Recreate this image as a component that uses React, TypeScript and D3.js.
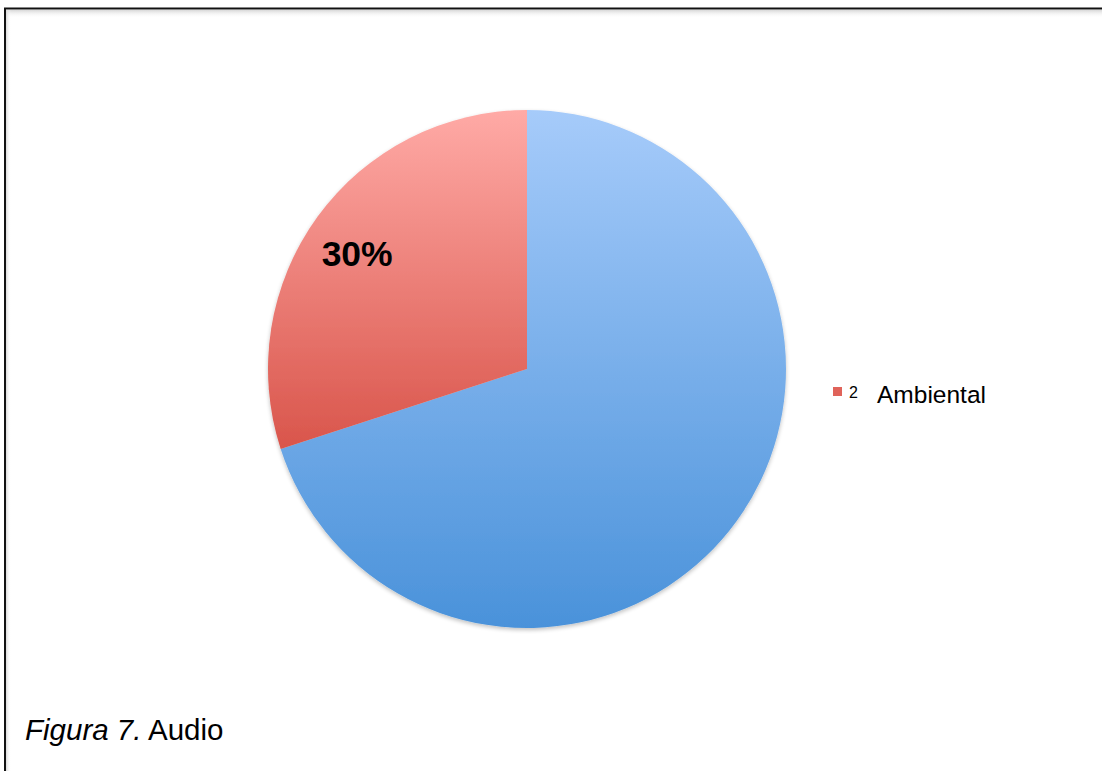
import React from "react";
import * as d3 from "d3";

const categories = ["1", "2"];
const legendNames = ["", "Ambiental"];
const values = [70, 30];
const shownLabels = [false, true];
const caption = { italic: "Figura 7.", plain: " Audio" };

const W = 1102;
const H = 771;
const cx = 527;
const cy = 369;
const R = 259;

export default function App() {
  const pie = d3.pie<number>().sort(null).value((d) => d);
  const arcs = pie(values);
  const arcGen = d3.arc<d3.PieArcDatum<number>>().innerRadius(0).outerRadius(R);
  const labelArc = d3.arc<d3.PieArcDatum<number>>().innerRadius(205).outerRadius(205);
  const total = d3.sum(values);
  const fills = ["url(#gBlue)", "url(#gRed)"];
  const legendFill = ["#6fa3e6", "#e0635a"];

  return (
    <svg
      width={W}
      height={H}
      style={{ position: "absolute", left: 0, top: 0, display: "block", background: "#fff" }}
      fontFamily="'Liberation Sans', Arial, sans-serif"
    >
      <defs>
        <linearGradient id="gBlue" gradientUnits="userSpaceOnUse" x1={0} y1={-R} x2={0} y2={R}>
          <stop offset="0" stopColor="#a6cbfa" />
          <stop offset="1" stopColor="#4a92da" />
        </linearGradient>
        <linearGradient id="gRed" gradientUnits="userSpaceOnUse" x1={0} y1={-R} x2={0} y2={R * 0.31}>
          <stop offset="0" stopColor="#ffaaa6" />
          <stop offset="1" stopColor="#d9554b" />
        </linearGradient>
        <linearGradient id="shTop" x1="0" y1="0" x2="0" y2="1">
          <stop offset="0" stopColor="#d8d8d8" />
          <stop offset="1" stopColor="#ffffff" stopOpacity="0" />
        </linearGradient>
        <linearGradient id="shLeft" x1="0" y1="0" x2="1" y2="0">
          <stop offset="0" stopColor="#d8d8d8" />
          <stop offset="1" stopColor="#ffffff" stopOpacity="0" />
        </linearGradient>
        <filter id="pieShadow" x="-10%" y="-10%" width="120%" height="120%">
          <feGaussianBlur in="SourceAlpha" stdDeviation="2" />
          <feOffset dx="0" dy="2" result="b" />
          <feComponentTransfer>
            <feFuncA type="linear" slope="0.25" />
          </feComponentTransfer>
          <feMerge>
            <feMergeNode />
            <feMergeNode in="SourceGraphic" />
          </feMerge>
        </filter>
      </defs>

      {/* frame */}
      <rect x={6} y={10} width={W - 6} height={8} fill="url(#shTop)" />
      <rect x={6} y={10} width={5} height={H - 10} fill="url(#shLeft)" />
      <line x1={4} y1={8.5} x2={W} y2={8.5} stroke="#111" strokeWidth={2} />
      <line x1={5} y1={8} x2={5} y2={H} stroke="#111" strokeWidth={2} />

      <g transform={`translate(${cx},${cy})`} filter="url(#pieShadow)">
        {arcs.map((a, i) => (
          <path key={categories[i]} d={arcGen(a) || ""} fill={fills[i]} />
        ))}
      </g>
      <g transform={`translate(${cx},${cy})`}>
        {arcs.map((a, i) => {
          if (!shownLabels[i]) return null;
          const [lx, ly] = labelArc.centroid(a);
          return (
            <text
              key={"l" + categories[i]}
              x={lx - 4}
              y={ly + 5}
              textAnchor="middle"
              dominantBaseline="central"
              fontWeight="bold"
              fontSize={35.5}
              fill="#000"
            >
              {Math.round((values[i] / total) * 100) + "%"}
            </text>
          );
        })}
      </g>

      {/* legend */}
      {categories.map((c, i) => {
        if (!legendNames[i]) return null;
        return (
          <g key={"lg" + c} transform="translate(833,387)">
            <rect x={0} y={0} width={9} height={9} fill={legendFill[i]} />
            <text x={16} y={10.5} fontSize={16} fill="#000">
              {c}
            </text>
            <text x={44} y={16} fontSize={24.5} fill="#000">
              {legendNames[i]}
            </text>
          </g>
        );
      })}

      <text x={25} y={740} fontSize={29.5} fill="#000">
        <tspan fontStyle="italic">{caption.italic}</tspan>
        <tspan>{caption.plain}</tspan>
      </text>
    </svg>
  );
}
